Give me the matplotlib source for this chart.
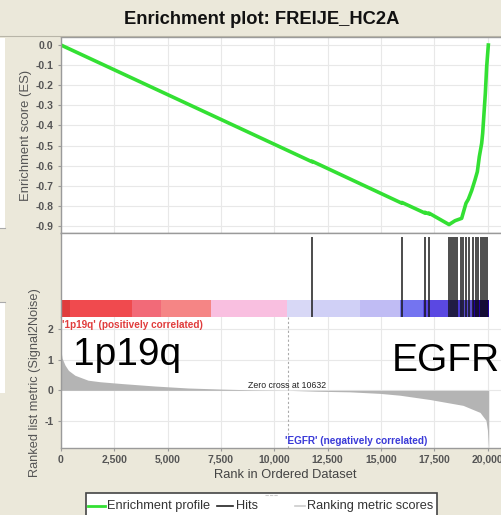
import numpy as np
import matplotlib
matplotlib.use("Agg")
import matplotlib.pyplot as plt
from matplotlib.lines import Line2D
from matplotlib.patches import Rectangle

plt.rcParams['font.family'] = ['Liberation Sans', 'DejaVu Sans']

# ---- data ----
n_genes = 20050
zero_cross = 10632

# running enrichment score (rank, ES)
es_rank = [0, 11770, 11770, 15980, 15980, 17060, 17060, 17250, 17250, 18190,
           18469, 18781, 18984, 19094, 19250, 19406, 19516, 19609, 19719,
           19766, 19828, 19891, 19953, 20031]
es_score = [0.0, -0.581, -0.578, -0.787, -0.783, -0.836, -0.832, -0.840, -0.836, -0.893,
            -0.874, -0.862, -0.787, -0.767, -0.724, -0.671, -0.630, -0.555, -0.489,
            -0.439, -0.340, -0.240, -0.108, 0.0]

# positions of gene set members (hits)
hits = [11770, 15980, 17060, 17250, 18190, 18280, 18370, 18470, 18560, 18750,
        18840, 18980, 19120, 19310, 19450, 19550, 19690, 19780, 19880, 19970]

# ranked list metric (Signal2Noise)
metric_rank = [0, 50, 190, 350, 656, 1266, 1828, 2859, 4406, 5953, 7547, 9000,
               10632, 12000, 13547, 14953, 15891, 17297, 18844, 19641, 19922,
               19990, 20030, 20050]
metric_val = [1.3, 1.05, 0.82, 0.65, 0.49, 0.33, 0.28, 0.22, 0.14, 0.076, 0.04, 0.015,
              0.0, -0.03, -0.05, -0.10, -0.16, -0.30, -0.49, -0.72, -0.98,
              -1.30, -1.74, -1.90]

# heat bar segments
bar_edges = [0, 420, 3330, 4690, 7030, 10590, 11770, 14020, 15890, 16970,
             18230, 18800, 19310, 20050]
bar_colors = ['#e03c3c', '#f04a4e', '#f26a78', '#f58585', '#f9bfe0', '#d8d8f6',
              '#d0d0f6', '#c0bcf4', '#7474f0', '#5a48e2', '#4a3ad0', '#5a4ccc', '#20009a']

xticks = [0, 2500, 5000, 7500, 10000, 12500, 15000, 17500, 20000]
xtick_labels = ['0', '2,500', '5,000', '7,500', '10,000', '12,500', '15,000', '17,500', '20,000']
es_ticks = [0.0, -0.1, -0.2, -0.3, -0.4, -0.5, -0.6, -0.7, -0.8, -0.9]
es_tick_labels = ['0.0', '-0.1', '-0.2', '-0.3', '-0.4', '-0.5', '-0.6', '-0.7', '-0.8', '-0.9']

W, H = 502, 515
bg = '#ebe8da'
fig = plt.figure(figsize=(W / 100, H / 100), dpi=100, facecolor=bg)


def fx(px):
    return px / W


def fy(py):
    return 1 - py / H


left, right = 61, 510
xmax = (right - left) * 46.875
spine_c = '#9a9a9a'
grid_c = '#e8e8e8'
tick_c = '#555555'

ax_es = fig.add_axes([fx(left), fy(233), fx(right) - fx(left), fy(37) - fy(233)])
ax_hits = fig.add_axes([fx(left), fy(317), fx(right) - fx(left), fy(233) - fy(317)])
ax_rank = fig.add_axes([fx(left), fy(448), fx(right) - fx(left), fy(317) - fy(448)])

for ax in (ax_es, ax_hits, ax_rank):
    ax.set_xlim(0, xmax)
    ax.set_facecolor('white')
    for s in ax.spines.values():
        s.set_color(spine_c)
        s.set_linewidth(1)
    ax.spines['right'].set_visible(False)
    ax.tick_params(length=2, color=spine_c, labelcolor=tick_c, labelsize=7.5)
    ax.set_xticks(xticks)

# --- enrichment score panel ---
ax_es.set_ylim(-0.935, 0.04)
ax_es.set_yticks(es_ticks)
ax_es.set_yticklabels(es_tick_labels, fontweight='bold')
ax_es.tick_params(axis='x', labelbottom=False, length=0)
ax_es.grid(True, color=grid_c, lw=0.8)
ax_es.set_axisbelow(True)
ax_es.plot(es_rank, es_score, color='#33e033', lw=2.6, solid_joinstyle='round')

# --- hits + heat bar panel ---
ax_hits.set_ylim(0, 1)
ax_hits.set_yticks([])
ax_hits.tick_params(axis='x', labelbottom=False, length=0)
ax_hits.spines['bottom'].set_visible(False)
bar_h = 17 / 84
ax_hits.bar(bar_edges[:-1], bar_h, width=np.diff(bar_edges), bottom=0, align='edge',
            color=bar_colors, lw=0)
ax_hits.vlines(hits, 0, 0.95, color='#111111', lw=1.4, alpha=0.75)

# --- ranked list metric panel ---
ax_rank.set_ylim(-1.88, 2.39)
ax_rank.set_yticks([2, 1, 0, -1])
ax_rank.set_yticklabels(['2', '1', '0', '-1'], fontweight='bold')
ax_rank.set_xticklabels(xtick_labels, fontweight='bold')
ax_rank.tick_params(axis='x', pad=3)
ax_rank.grid(True, color=grid_c, lw=0.8)
ax_rank.set_axisbelow(True)
ax_rank.fill_between(metric_rank, metric_val, 0, color='#b4b4b4', lw=0)
ax_rank.axvline(zero_cross, color='#aaaaaa', ls=(0, (2, 2)), lw=0.8)
ax_rank.spines['top'].set_visible(False)

ax_rank.text(0.003, 0.978, "'1p19q' (positively correlated)", transform=ax_rank.transAxes,
             color='#e03c3c', fontsize=7.2, fontweight='bold', va='top', ha='left')
ax_rank.text(10500, -1.65, "'EGFR' (negatively correlated)", color='#3a3ad8',
             fontsize=7.2, fontweight='bold', va='center', ha='left')
ax_rank.text(zero_cross - 40, 0.17, 'Zero cross at 10632', fontsize=6.3,
             color='#222222', ha='center', va='center')
ax_rank.text(562, 0.825, '1p19q', fontsize=28, color='black', va='baseline', ha='left')
ax_rank.text(15516, 0.63, 'EGFR', fontsize=28, color='black', va='baseline', ha='left')

ax_rank.set_xlabel('Rank in Ordered Dataset', fontsize=9.3, color='#444444', labelpad=3)

# title and axis labels
fig.text(fx(262), fy(19), 'Enrichment plot: FREIJE_HC2A', fontsize=13.2, fontweight='bold',
         ha='center', va='center', color='#111111')
fig.text(fx(26), fy(135), 'Enrichment score (ES)', rotation=90, fontsize=9.4,
         color='#555555', ha='center', va='center')
fig.text(fx(35), fy(383), 'Ranked list metric (Signal2Noise)', rotation=90, fontsize=9.2,
         color='#555555', ha='center', va='center')

# border under title band
fig.add_artist(Line2D([fx(0), fx(W)], [fy(36), fy(36)], color='#b8b5a8', lw=0.8))

# edge of neighbouring panel at the left border
fig.add_artist(Rectangle((0, fy(228)), fx(5), fy(38) - fy(228), facecolor='white',
                         edgecolor='none', transform=fig.transFigure))
fig.add_artist(Rectangle((0, fy(393)), fx(5), fy(302) - fy(393), facecolor='white',
                         edgecolor='none', transform=fig.transFigure))
fig.add_artist(Line2D([0, fx(5)], [fy(228), fy(228)], color='#aaaaaa', lw=0.8))
fig.add_artist(Line2D([0, fx(5)], [fy(302), fy(302)], color='#aaaaaa', lw=0.8))

# legend box
fig.add_artist(Rectangle((fx(86), fy(522)), fx(437) - fx(86), fy(493) - fy(522),
                         facecolor='white', edgecolor='#444444', lw=1.2,
                         transform=fig.transFigure))
ly = fy(506)
fig.add_artist(Line2D([fx(88), fx(105)], [ly, ly], color='#33e033', lw=2))
fig.text(fx(107), ly, 'Enrichment profile', fontsize=9.2, color='#333333', va='center')
fig.add_artist(Line2D([fx(217), fx(233)], [ly, ly], color='#222222', lw=1.2))
fig.text(fx(236), ly, 'Hits', fontsize=9.2, color='#333333', va='center')
fig.add_artist(Line2D([fx(265), fx(278)], [fy(495), fy(495)], color='#cccccc', lw=0.8,
                      ls=(0, (3, 1))))
fig.add_artist(Line2D([fx(295), fx(305)], [ly, ly], color='#cccccc', lw=1.2))
fig.text(fx(307), ly, 'Ranking metric scores', fontsize=9.2, color='#333333', va='center')

fig.savefig('out.png', dpi=100, facecolor=bg)
